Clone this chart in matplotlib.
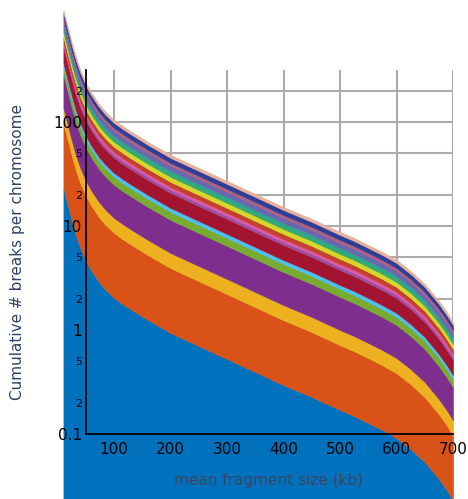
import numpy as np
import matplotlib
matplotlib.use('Agg')
import matplotlib.pyplot as plt
from matplotlib.ticker import FixedLocator, FixedFormatter

# mean fragment size (kb)
frag_size = [10, 15, 20, 25, 32, 40, 50, 60, 73, 85, 100, 115, 130, 160, 200,
             250, 300, 350, 400, 450, 500, 525, 550, 575, 600, 625, 650, 675,
             690, 700]
# total cumulative breaks (top edge of the stack)
total_breaks = [1194, 935.8, 733.5, 574.9, 421.7, 316.2, 237.1, 190.0, 149.0,
                124.8, 104.5, 91.5, 81.0, 64.2, 48.2, 36.1, 27.1, 20.3, 15.2,
                11.7, 8.76, 7.66, 6.57, 5.62, 4.71, 3.69, 2.77, 1.90, 1.457,
                1.19]
# share of the total taken by each chromosome band, bottom to top
chrom_share = [0.0194, 0.0622, 0.0324, 0.123, 0.046, 0.026, 0.122, 0.030,
               0.031, 0.058, 0.064, 0.043, 0.045, 0.082, 0.054, 0.098, 0.064]
band_colors = ['#0072BD', '#D95319', '#EDB120', '#7E2F8E', '#77AC30',
               '#4DBEEE', '#A2142F', '#9B4F9F', '#E056A8', '#C3402C',
               '#D6D62A', '#38A86C', '#2AA58E', '#6B66B0', '#B0607C',
               '#2E3D98', '#E8B09A']

x_ticks = [100, 200, 300, 400, 500, 600, 700]
y_major = [0.1, 1, 10, 100]
y_major_labels = ['0.1', '1', '10', '100']
y_minor = [0.2, 0.5, 2, 5, 20, 50, 200]
y_minor_labels = ['2', '5', '2', '5', '2', '5', '2']

layers = np.outer(chrom_share, total_breaks)
tops = np.cumsum(layers, axis=0)
bottoms = np.vstack([np.full(len(frag_size), 1e-3), tops[:-1]])

fig = plt.figure(figsize=(4.68, 4.99), dpi=100)
ax = fig.add_axes([86 / 468, 65 / 499, 367 / 468, 364 / 499])
ax.set_yscale('log')

# grid behind the areas, tick labels above them
for v in x_ticks:
    ax.axvline(v, color='#ababab', lw=1.5, zorder=0.5)
for v in y_major + y_minor:
    ax.axhline(v, color='#ababab', lw=1.5, zorder=0.5)

for lo, hi, c in zip(bottoms, tops, band_colors):
    ax.fill_between(frag_size, lo, hi, facecolor=c, edgecolor=c, lw=0.4,
                    clip_on=False, zorder=1)

ax.set_xlim(50, 700)
ax.set_ylim(0.1, 316)
ax.set_xticks(x_ticks)
ax.yaxis.set_major_locator(FixedLocator(y_major))
ax.yaxis.set_major_formatter(FixedFormatter(y_major_labels))
ax.yaxis.set_minor_locator(FixedLocator(y_minor))
ax.yaxis.set_minor_formatter(FixedFormatter(y_minor_labels))
ax.tick_params(which='both', length=0)
ax.tick_params(axis='x', labelsize=11, pad=6)
ax.tick_params(axis='y', which='major', labelsize=11, pad=3)
ax.tick_params(axis='y', which='minor', labelsize=8, pad=3)

ax.spines['top'].set_visible(False)
ax.spines['right'].set_visible(False)
ax.spines['left'].set_linewidth(1.3)
ax.spines['bottom'].set_linewidth(1.3)
ax.patch.set_visible(False)

fig.text(269 / 468, 1 - 481 / 499, 'mean fragment size (kb)', ha='center',
         va='center', fontsize=11, color='#3a4660')
fig.text(18 / 468, 1 - 252 / 499, 'Cumulative # breaks per chromosome',
         rotation=90, ha='center', va='center', fontsize=11, color='#2e4266')

fig.savefig('out.png', dpi=100)
